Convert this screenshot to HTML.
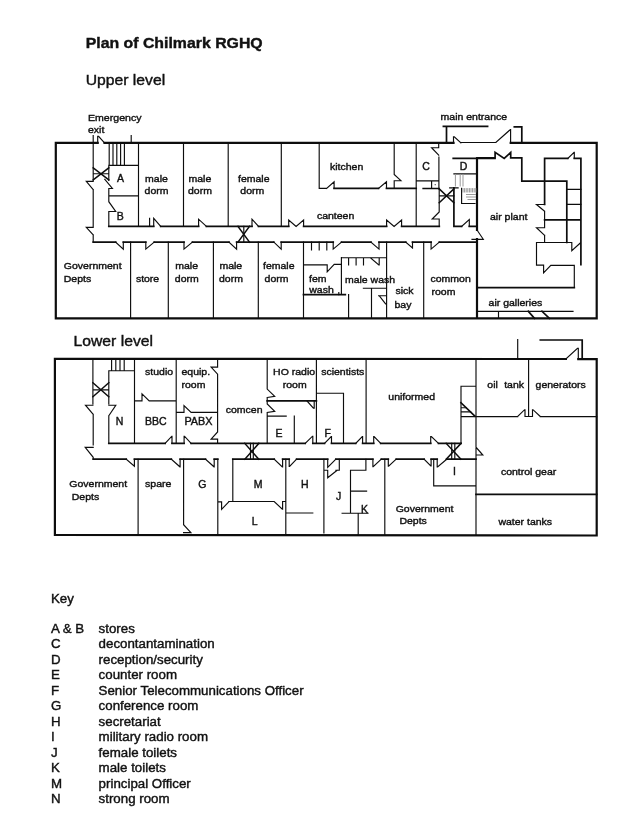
<!DOCTYPE html>
<html><head><meta charset="utf-8"><title>Plan of Chilmark RGHQ</title>
<style>
html,body{margin:0;padding:0;background:#fff;}
body{width:644px;height:827px;overflow:hidden;}
svg{display:block;will-change:transform;opacity:0.999;}
text{font-family:"Liberation Sans",Arial,sans-serif;fill:#111;stroke:#111;stroke-width:0.4px;}
</style></head><body>
<svg width="644" height="827" viewBox="0 0 644 827">
<rect width="644" height="827" fill="#fff"/>
<g id="plan">
<path d="M97.7 142.9 L55.8 142.9 L55.8 318.4 L596.7 318.4 L596.7 142.9 L510.7 142.9 M104.5 142.9 L453.5 142.9 M477.0 158.3 L477.0 230.0 M477.0 239.2 L477.0 318.4 M565.9 359.0 L54.9 358.9 L54.9 534.9 L596.7 535.5 L596.7 359.2 L578.3 359.2" fill="none" stroke="#0d0d0d" stroke-width="2.2" stroke-linecap="square" stroke-linejoin="miter"/>
<path d="M108.8 226.4 L153.7 226.4 M160.7 226.4 L198.6 226.4 M206.4 226.4 L252.0 226.4 M258.5 226.4 L288.7 226.4 M303.6 226.4 L386.6 226.4 M401.6 226.4 L439.3 226.4 M93.2 242.1 L115.7 242.1 M123.3 242.1 L145.8 242.1 M154.2 242.1 L184.0 242.1 M192.4 242.1 L229.0 242.1 M236.6 242.1 L273.8 242.1 M281.2 242.1 L333.2 242.1 M341.5 242.1 L371.0 242.1 M379.0 242.1 L405.8 242.1 M412.5 242.1 L431.1 242.1 M439.3 242.1 L476.8 242.1 M303.5 294.6 L345.3 294.6 M334.1 188.4 L378.5 188.4 M386.5 188.4 L416.2 188.4 M423.2 188.5 L438.9 188.5 M453.9 187.8 L453.9 226.4 M453.9 226.4 L461.6 226.4 M469.3 226.4 L477.0 226.4 M453.2 158.3 L495.0 158.3 M443.4 126.3 L487.6 126.3 M446.5 126.3 L446.5 142.9 M514.3 126.8 L521.8 126.8 L521.8 142.9 M477.0 157.9 L495.1 157.9 L495.1 152.4 L504.2 158.4 L510.7 152.4 L510.7 157.9 L521.8 157.9 L521.8 181.2 L544.6 181.2 M544.6 181.2 L566.8 181.2 M544.6 158.4 L544.6 204.3 M544.6 158.4 L567.8 158.4 M574.3 158.4 L580.9 158.4 M580.9 158.4 L580.9 264.7 M566.8 181.2 L566.8 242.5 M544.6 219.9 L580.9 219.9 M477.0 287.7 L574.3 287.7 M528.3 311.3 L534.5 318.4 M542.0 311.3 L549.4 318.4 M540.3 340.0 L582.2 340.0 L582.2 359.0 M108.8 443.4 L165.1 443.4 M172.0 443.4 L184.1 443.4 M191.1 443.4 L305.2 443.4 M312.8 443.4 L324.5 443.4 M331.5 443.4 L355.7 443.4 M362.6 443.4 L373.7 443.4 M380.7 443.4 L430.7 443.4 M438.5 443.4 L461.0 443.4 M267.2 400.8 L316.4 400.8 M461.0 402.8 L474.9 416.1 M476.0 494.3 L596.7 494.3 M93.2 459.2 L126.2 459.2 M134.4 459.2 L171.3 459.2 M180.1 459.2 L205.5 459.2 M214.2 459.2 L217.8 459.2 M232.8 459.2 L274.2 459.2 M282.6 459.2 L289.2 459.2 M296.6 459.2 L327.7 459.2 M335.9 459.2 L372.9 459.2 M381.3 459.2 L388.3 459.2 M396.2 459.2 L424.1 459.2 M431.1 459.2 L437.2 459.2 M446.7 459.2 L476.0 459.2" fill="none" stroke="#0d0d0d" stroke-width="1.7" stroke-linecap="square" stroke-linejoin="miter"/>
<path d="M93.2 135.5 L93.2 142.9 M97.7 142.9 L97.7 136.3 L98.6 136.3 L104.5 142.9 M131.2 135.5 L131.2 142.9 M93.2 142.9 L93.2 180.3 M93.2 181.4 L86.3 181.4 L93.2 189.6 M93.2 189.6 L93.2 226.2 M93.2 227.3 L86.3 227.3 L93.2 234.9 M93.2 234.9 L93.2 242.0 M93.2 173.7 L108.8 173.7 M109.2 142.9 L109.2 165.2 M113.0 142.9 L113.0 165.2 M116.8 142.9 L116.8 165.2 M120.6 142.9 L120.6 165.2 M124.4 142.9 L124.4 165.2 M108.8 165.4 L138.5 165.4 M138.5 142.9 L138.5 226.4 M108.8 165.4 L108.8 180.3 M104.8 179.3 L112.4 188.5 L108.8 188.5 M108.8 188.5 L108.8 201.7 L115.7 211.5 L108.8 211.5 M108.8 211.5 L108.8 226.4 M108.8 195.8 L138.5 195.8 M149.6 218.4 L149.6 226.4 M153.7 226.4 L153.7 218.4 L160.7 226.4 M198.6 226.4 L198.6 219.2 L206.4 226.4 M252.0 226.4 L252.0 219.2 L258.5 226.4 M288.7 226.4 L288.7 220.0 L296.1 226.4 L303.6 220.0 L303.6 226.4 M386.6 226.4 L386.6 220.0 L394.1 226.4 L401.6 220.0 L401.6 226.4 M183.5 142.9 L183.5 226.4 M228.2 142.9 L228.2 226.4 M281.3 142.9 L281.3 226.4 M243.8 226.4 L243.8 242.1 M115.7 242.1 L123.3 249.2 L123.3 242.1 M145.8 242.1 L145.8 249.1 L154.2 242.1 M184.0 242.1 L184.0 249.1 L192.4 242.1 M229.0 242.1 L236.6 249.1 L236.6 242.1 M273.8 242.1 L281.2 249.1 L281.2 242.1 M333.2 242.1 L333.2 249.1 L341.5 242.1 M371.0 242.1 L379.0 249.1 L379.0 242.1 M405.8 242.1 L412.5 248.0 L412.5 242.1 M431.1 242.1 L431.1 249.1 L439.3 242.1 M130.6 242.1 L130.6 318.4 M168.3 242.1 L168.3 318.4 M213.4 242.1 L213.4 318.4 M258.3 242.1 L258.3 318.4 M303.5 242.1 L303.5 318.4 M386.6 242.1 L386.6 318.4 M423.7 242.1 L423.7 318.4 M311.5 242.1 L311.5 250.0 M319.2 242.1 L319.2 250.0 M326.8 242.1 L326.8 250.0 M303.5 264.9 L327.2 264.9 M327.2 264.9 L327.2 271.8 L334.2 264.4 L341.4 264.4 M341.4 257.6 L341.4 294.5 M338.8 292.6 L338.8 294.6 M341.4 257.7 L385.9 257.7 M348.6 257.7 L348.6 264.8 M356.1 257.7 L356.1 264.8 M363.5 257.7 L363.5 264.8 M370.6 257.9 L378.8 264.9 L379.2 264.9 L379.2 257.7 M363.4 288.2 L386.6 288.2 M371.5 288.2 L371.5 318.4 M348.6 294.6 L348.6 318.4 M378.6 295.7 L386.6 295.7 M379.5 296.0 L385.6 303.9 L386.6 303.9 M319.2 142.9 L319.2 188.4 L326.6 188.4 M326.6 188.4 L334.1 181.8 L334.1 188.4 M378.5 188.4 L386.5 181.8 L386.5 188.4 M394.2 142.9 L394.2 174.5 L400.9 180.7 L394.2 180.7 M394.2 180.7 L394.2 188.4 M416.2 142.9 L416.2 226.4 M438.7 142.9 L438.7 147.7 L431.6 147.7 L438.7 155.2 M438.9 157.0 L438.9 188.9 M416.2 180.9 L438.9 180.9 M431.6 180.9 L431.6 188.4 M439.2 195.9 L453.9 195.9 M439.2 188.9 L439.2 211.9 L432.2 219.0 L439.2 219.0 M439.2 219.0 L439.2 226.4 M449.7 187.9 L458.1 187.9 M461.6 226.4 L469.3 219.6 L469.3 226.4 M477.0 230.0 L483.3 239.3 L472.0 239.3 M453.9 173.8 L477.0 173.8 M461.6 188.2 L461.6 203.5 L475.0 203.5 M453.5 142.9 L453.5 136.8 L454.3 136.8 L460.9 142.9 M460.9 142.5 L496.1 142.2 M496.1 142.3 L510.3 129.6 L510.6 129.6 L510.6 142.9 M567.8 158.4 L574.1 152.4 L574.3 152.4 L574.3 158.4 M566.8 189.3 L580.9 189.3 M566.8 204.3 L580.9 204.3 M544.6 204.5 L536.5 204.5 L544.6 211.2 M544.6 211.2 L544.6 227.5 M544.6 227.7 L536.5 227.7 L544.6 235.4 M544.6 235.4 L544.6 242.5 M536.5 265.1 L536.5 242.5 L571.8 242.5 L571.8 250.6 L580.3 243.0 M536.5 265.1 L543.6 265.1 L543.6 272.8 L550.8 265.3 L574.3 265.3 L574.3 287.3 M477.0 311.3 L573.0 311.3 M498.5 311.3 L498.5 318.4 M565.9 359.0 L577.5 348.4 L578.3 348.4 L578.3 359.0 M517.7 339.5 L517.7 359.0 M92.9 359.0 L92.9 404.0 M92.9 405.2 L85.5 405.2 L93.2 414.3 M93.2 414.3 L93.2 445.0 M93.2 447.3 L85.2 447.3 L93.2 457.3 L93.2 459.2 M108.8 370.7 L108.8 404.0 M108.8 405.2 L115.8 405.2 L108.8 415.7 M108.8 415.7 L108.8 443.4 M92.9 389.8 L108.8 389.8 M111.6 359.0 L111.6 370.5 M115.8 359.0 L115.8 370.5 M120.0 359.0 L120.0 370.5 M124.2 359.0 L124.2 370.5 M108.8 370.7 L134.5 370.7 M134.5 359.0 L134.5 443.4 M134.5 400.8 L142.0 400.8 L142.0 393.9 L149.2 400.8 L176.2 400.8 M176.2 359.0 L176.2 443.4 M165.1 443.4 L171.8 436.2 L172.0 436.2 L172.0 443.4 M217.6 359.0 L217.6 367.1 L211.1 367.1 L217.6 374.2 L217.6 432.0 L211.1 439.1 L217.6 439.1 L217.6 443.4 M176.2 412.4 L184.0 412.4 L184.0 405.5 L191.1 412.4 L217.6 412.4 M184.1 443.4 L184.1 436.2 L184.5 436.2 L191.1 443.4 M267.2 359.0 L267.2 389.1 L274.7 396.4 L267.2 397.5 M267.2 397.5 L267.2 404.0 L274.7 411.3 L267.2 412.4 L267.2 443.4 M307.0 401.0 L313.4 408.2 L314.2 408.2 L314.2 400.8 M267.2 416.1 L286.2 416.1 M294.3 416.1 L294.3 443.4 M316.4 359.0 L316.4 443.4 M305.2 443.4 L312.5 436.2 L312.8 436.2 L312.8 443.4 M316.4 393.2 L343.5 393.2 L343.5 443.4 M324.5 443.4 L331.2 436.6 L331.5 436.6 L331.5 443.4 M355.7 443.4 L362.3 436.6 L362.6 436.6 L362.6 443.4 M366.1 359.0 L366.1 443.4 M373.7 443.4 L373.7 436.6 L374.1 436.6 L380.7 443.4 M430.7 443.4 L430.7 436.6 L431.4 436.6 L438.5 443.4 M250.5 443.4 L250.5 459.2 M253.3 443.4 L253.3 459.2 M451.7 443.4 L451.7 459.2 M454.8 443.4 L454.8 459.2 M461.0 443.4 L461.0 386.2 L476.0 386.2 M461.0 407.7 L466.2 407.7 M461.0 411.9 L470.7 411.9 M461.0 416.6 L517.7 416.6 M517.7 416.5 L524.6 409.7 L525.0 409.7 L525.0 416.5 L532.5 416.5 L532.5 409.7 L533.0 409.7 L540.3 416.5 M540.3 416.6 L596.7 416.6 M528.6 359.0 L528.6 416.5 M476.0 359.0 L476.0 535.2 M476.0 447.2 L482.8 455.0 L476.0 455.0 M126.2 459.2 L134.4 466.2 L134.4 459.2 M171.3 459.2 L179.9 466.8 L180.1 466.8 L180.1 459.2 M205.5 459.2 L214.0 466.8 L214.2 466.8 L214.2 459.2 M274.2 459.2 L282.3 466.9 L282.6 466.9 L282.6 459.2 M289.2 459.2 L289.2 466.5 L289.6 466.5 L296.6 459.2 M327.7 459.2 L327.7 467.4 L335.9 459.2 M372.9 459.2 L372.9 466.7 L373.2 466.7 L381.3 459.2 M388.3 459.2 L388.3 466.2 L388.6 466.2 L396.2 459.2 M424.1 459.2 L430.8 466.0 L431.1 466.0 L431.1 459.2 M437.2 459.2 L437.2 467.0 L437.6 467.0 L446.7 459.2 M138.1 459.2 L138.1 535.2 M183.6 459.2 L183.6 524.7 L190.9 532.6 L183.6 532.6 M217.8 459.2 L217.8 535.2 M232.8 459.2 L232.8 501.3 M228.8 501.5 L274.2 501.5 L282.3 509.2 L282.6 509.2 L282.6 501.5 L285.8 501.5 M217.8 501.8 L221.6 501.8 L221.6 509.3 L229.0 501.6 M285.8 459.2 L285.8 535.2 M285.8 513.0 L312.8 513.0 M323.9 459.2 L323.9 533.0 M339.3 459.2 L339.3 470.2 L335.9 470.2 M323.9 470.2 L327.7 470.2 L327.7 477.8 L337.2 470.2 M350.5 513.2 L350.5 470.2 L365.9 470.2 L365.9 459.2 M350.5 491.1 L366.6 491.1 M342.1 513.2 L368.0 513.2 M358.2 513.2 L358.2 535.2 M384.8 459.2 L384.8 535.2 M433.7 459.2 L433.7 485.9 L476.0 485.9" fill="none" stroke="#0d0d0d" stroke-width="1.15" stroke-linecap="square" stroke-linejoin="miter"/><path d="M93.2 167.8 L108.8 179.8 M108.8 167.8 L93.2 179.8 M238.0 226.4 L249.5 242.1 M249.5 226.4 L238.0 242.1 M439.2 188.9 L453.9 202.8 M453.9 188.9 L439.2 202.8 M92.9 382.8 L108.8 396.8 M108.8 382.8 L92.9 396.8 M244.8 443.4 L258.8 459.2 M258.8 443.4 L244.8 459.2 M446.2 443.4 L461.0 459.2 M461.0 443.4 L446.2 459.2" fill="none" stroke="#0d0d0d" stroke-width="1.5" stroke-linecap="square" stroke-linejoin="miter"/>
<path d="M455.4 174.5 L455.4 186.0 M460.2 174.5 L460.2 186.0 M463.0 174.5 L463.0 186.0 M463.0 188.6 L463.0 192.0 M464.6 188.6 L464.6 192.0 M466.2 188.6 L466.2 192.0 M467.8 188.6 L467.8 192.0 M469.4 188.6 L469.4 192.0 M471.0 188.6 L471.0 192.0 M472.6 188.6 L472.6 192.0 M474.2 188.6 L474.2 192.0 M475.8 188.6 L475.8 192.0 M466.5 194.5 L475.5 194.5 M466.5 197.0 L475.5 197.0 M468.0 199.5 L475.5 199.5" fill="none" stroke="#999" stroke-width="1" stroke-linecap="square" stroke-linejoin="miter"/>
<circle cx="435.2" cy="184.7" r="0.6" fill="#333"/>
</g>
<g id="labels">
<text x="85.7" y="47.8" font-size="14.88" textLength="177.0" lengthAdjust="spacingAndGlyphs" font-weight="bold">Plan of Chilmark RGHQ</text>
<text x="85.7" y="85.4" font-size="14.88" textLength="79.5" lengthAdjust="spacingAndGlyphs">Upper level</text>
<text x="73.5" y="345.5" font-size="14.88" textLength="79.5" lengthAdjust="spacingAndGlyphs">Lower level</text>
<text x="88.0" y="120.5" font-size="9.77" textLength="53.5" lengthAdjust="spacingAndGlyphs">Emergency</text>
<text x="88.0" y="132.6" font-size="9.77" textLength="16.3" lengthAdjust="spacingAndGlyphs">exit</text>
<text x="440.6" y="119.8" font-size="9.77" textLength="66.5" lengthAdjust="spacingAndGlyphs">main entrance</text>
<text x="117.0" y="182.4" font-size="10.50">A</text>
<text x="116.7" y="220.0" font-size="10.50">B</text>
<text x="145.1" y="181.5" font-size="9.77" textLength="22.8" lengthAdjust="spacingAndGlyphs">male</text>
<text x="144.6" y="194.3" font-size="9.77" textLength="23.9" lengthAdjust="spacingAndGlyphs">dorm</text>
<text x="188.5" y="181.5" font-size="9.77" textLength="22.8" lengthAdjust="spacingAndGlyphs">male</text>
<text x="188.0" y="194.3" font-size="9.77" textLength="23.9" lengthAdjust="spacingAndGlyphs">dorm</text>
<text x="238.0" y="181.8" font-size="9.77" textLength="31.5" lengthAdjust="spacingAndGlyphs">female</text>
<text x="240.3" y="193.7" font-size="9.77" textLength="23.9" lengthAdjust="spacingAndGlyphs">dorm</text>
<text x="330.0" y="169.9" font-size="9.77" textLength="33.3" lengthAdjust="spacingAndGlyphs">kitchen</text>
<text x="316.9" y="219.0" font-size="9.77" textLength="37.4" lengthAdjust="spacingAndGlyphs">canteen</text>
<text x="422.2" y="169.8" font-size="10.50">C</text>
<text x="459.8" y="169.8" font-size="10.50">D</text>
<text x="490.0" y="219.6" font-size="9.77" textLength="37.4" lengthAdjust="spacingAndGlyphs">air plant</text>
<text x="63.8" y="269.1" font-size="9.77" textLength="57.8" lengthAdjust="spacingAndGlyphs">Government</text>
<text x="63.8" y="281.9" font-size="9.77" textLength="27.4" lengthAdjust="spacingAndGlyphs">Depts</text>
<text x="135.9" y="281.8" font-size="9.77" textLength="23.3" lengthAdjust="spacingAndGlyphs">store</text>
<text x="175.2" y="269.4" font-size="9.77" textLength="22.8" lengthAdjust="spacingAndGlyphs">male</text>
<text x="174.8" y="281.7" font-size="9.77" textLength="23.9" lengthAdjust="spacingAndGlyphs">dorm</text>
<text x="219.4" y="269.4" font-size="9.77" textLength="22.8" lengthAdjust="spacingAndGlyphs">male</text>
<text x="219.0" y="281.7" font-size="9.77" textLength="23.9" lengthAdjust="spacingAndGlyphs">dorm</text>
<text x="263.0" y="269.4" font-size="9.77" textLength="31.5" lengthAdjust="spacingAndGlyphs">female</text>
<text x="264.6" y="281.7" font-size="9.77" textLength="23.9" lengthAdjust="spacingAndGlyphs">dorm</text>
<text x="309.0" y="281.9" font-size="9.77" textLength="17.5" lengthAdjust="spacingAndGlyphs">fem</text>
<text x="309.3" y="293.0" font-size="9.77" textLength="24.5" lengthAdjust="spacingAndGlyphs">wash</text>
<text x="344.9" y="282.5" font-size="9.77" textLength="50.2" lengthAdjust="spacingAndGlyphs">male wash</text>
<text x="395.5" y="294.2" font-size="9.77" textLength="18.1" lengthAdjust="spacingAndGlyphs">sick</text>
<text x="394.5" y="307.5" font-size="9.77" textLength="16.9" lengthAdjust="spacingAndGlyphs">bay</text>
<text x="430.5" y="282.2" font-size="9.77" textLength="40.3" lengthAdjust="spacingAndGlyphs">common</text>
<text x="431.5" y="294.5" font-size="9.77" textLength="23.9" lengthAdjust="spacingAndGlyphs">room</text>
<text x="488.6" y="305.8" font-size="9.77" textLength="53.7" lengthAdjust="spacingAndGlyphs">air galleries</text>
<text x="145.1" y="375.4" font-size="9.77" textLength="28.0" lengthAdjust="spacingAndGlyphs">studio</text>
<text x="181.5" y="375.3" font-size="9.77" textLength="28.6" lengthAdjust="spacingAndGlyphs">equip.</text>
<text x="181.5" y="387.8" font-size="9.77" textLength="23.9" lengthAdjust="spacingAndGlyphs">room</text>
<text x="115.8" y="425.1" font-size="10.50">N</text>
<text x="145.1" y="425.2" font-size="10.50" textLength="21.6" lengthAdjust="spacingAndGlyphs">BBC</text>
<text x="184.4" y="425.2" font-size="10.50" textLength="28.0" lengthAdjust="spacingAndGlyphs">PABX</text>
<text x="225.7" y="412.5" font-size="9.77" textLength="36.8" lengthAdjust="spacingAndGlyphs">comcen</text>
<text x="273.1" y="375.2" font-size="9.77" textLength="42.0" lengthAdjust="spacingAndGlyphs">HO radio</text>
<text x="282.8" y="387.7" font-size="9.77" textLength="23.9" lengthAdjust="spacingAndGlyphs">room</text>
<text x="275.6" y="437.1" font-size="10.50">E</text>
<text x="324.4" y="437.1" font-size="10.50">F</text>
<text x="321.2" y="375.2" font-size="9.77" textLength="43.2" lengthAdjust="spacingAndGlyphs">scientists</text>
<text x="388.3" y="400.0" font-size="9.77" textLength="46.7" lengthAdjust="spacingAndGlyphs">uniformed</text>
<text x="487.3" y="387.7" font-size="9.77" textLength="10.5" lengthAdjust="spacingAndGlyphs">oil</text>
<text x="504.2" y="387.7" font-size="9.77" textLength="19.8" lengthAdjust="spacingAndGlyphs">tank</text>
<text x="535.6" y="387.7" font-size="9.77" textLength="50.2" lengthAdjust="spacingAndGlyphs">generators</text>
<text x="500.9" y="475.0" font-size="9.77" textLength="55.4" lengthAdjust="spacingAndGlyphs">control gear</text>
<text x="498.4" y="524.8" font-size="9.77" textLength="53.7" lengthAdjust="spacingAndGlyphs">water tanks</text>
<text x="69.3" y="487.4" font-size="9.77" textLength="57.8" lengthAdjust="spacingAndGlyphs">Government</text>
<text x="71.8" y="499.8" font-size="9.77" textLength="27.4" lengthAdjust="spacingAndGlyphs">Depts</text>
<text x="145.1" y="487.4" font-size="9.77" textLength="26.3" lengthAdjust="spacingAndGlyphs">spare</text>
<text x="198.2" y="487.5" font-size="10.50">G</text>
<text x="253.8" y="487.9" font-size="10.50">M</text>
<text x="300.9" y="487.9" font-size="10.50">H</text>
<text x="251.8" y="524.8" font-size="10.50">L</text>
<text x="336.0" y="500.2" font-size="10.50">J</text>
<text x="361.0" y="513.4" font-size="10.50">K</text>
<text x="395.7" y="512.4" font-size="9.77" textLength="57.8" lengthAdjust="spacingAndGlyphs">Government</text>
<text x="399.4" y="524.3" font-size="9.77" textLength="27.4" lengthAdjust="spacingAndGlyphs">Depts</text>
<text x="453.0" y="474.9" font-size="10.50">I</text>
<text x="50.9" y="603.1" font-size="12.50" textLength="22.9" lengthAdjust="spacingAndGlyphs">Key</text>
<text x="50.9" y="632.7" font-size="12.50" textLength="33.3" lengthAdjust="spacingAndGlyphs">A &amp; B</text>
<text x="98.6" y="632.7" font-size="12.50" textLength="36.2" lengthAdjust="spacingAndGlyphs">stores</text>
<text x="50.9" y="648.2" font-size="13.30">C</text>
<text x="98.6" y="648.2" font-size="12.50" textLength="116.1" lengthAdjust="spacingAndGlyphs">decontantamination</text>
<text x="50.9" y="663.7" font-size="13.30">D</text>
<text x="98.6" y="663.7" font-size="12.50" textLength="104.2" lengthAdjust="spacingAndGlyphs">reception/security</text>
<text x="50.9" y="679.2" font-size="13.30">E</text>
<text x="98.6" y="679.2" font-size="12.50" textLength="78.4" lengthAdjust="spacingAndGlyphs">counter room</text>
<text x="50.9" y="694.7" font-size="13.30">F</text>
<text x="98.6" y="694.7" font-size="12.50" textLength="205.0" lengthAdjust="spacingAndGlyphs">Senior Telecommunications Officer</text>
<text x="50.9" y="710.2" font-size="13.30">G</text>
<text x="98.6" y="710.2" font-size="12.50" textLength="99.8" lengthAdjust="spacingAndGlyphs">conference room</text>
<text x="50.9" y="725.6" font-size="13.30">H</text>
<text x="98.6" y="725.6" font-size="12.50" textLength="62.1" lengthAdjust="spacingAndGlyphs">secretariat</text>
<text x="50.9" y="741.1" font-size="13.30">I</text>
<text x="98.6" y="741.1" font-size="12.50" textLength="109.4" lengthAdjust="spacingAndGlyphs">military radio room</text>
<text x="50.9" y="756.6" font-size="13.30">J</text>
<text x="98.6" y="756.6" font-size="12.50" textLength="78.4" lengthAdjust="spacingAndGlyphs">female toilets</text>
<text x="50.9" y="772.1" font-size="13.30">K</text>
<text x="98.6" y="772.1" font-size="12.50" textLength="67.3" lengthAdjust="spacingAndGlyphs">male toilets</text>
<text x="50.9" y="787.6" font-size="13.30">M</text>
<text x="98.6" y="787.6" font-size="12.50" textLength="92.2" lengthAdjust="spacingAndGlyphs">principal Officer</text>
<text x="50.9" y="803.1" font-size="13.30">N</text>
<text x="98.6" y="803.1" font-size="12.50" textLength="71.0" lengthAdjust="spacingAndGlyphs">strong room</text>
</g>
</svg>
</body></html>
